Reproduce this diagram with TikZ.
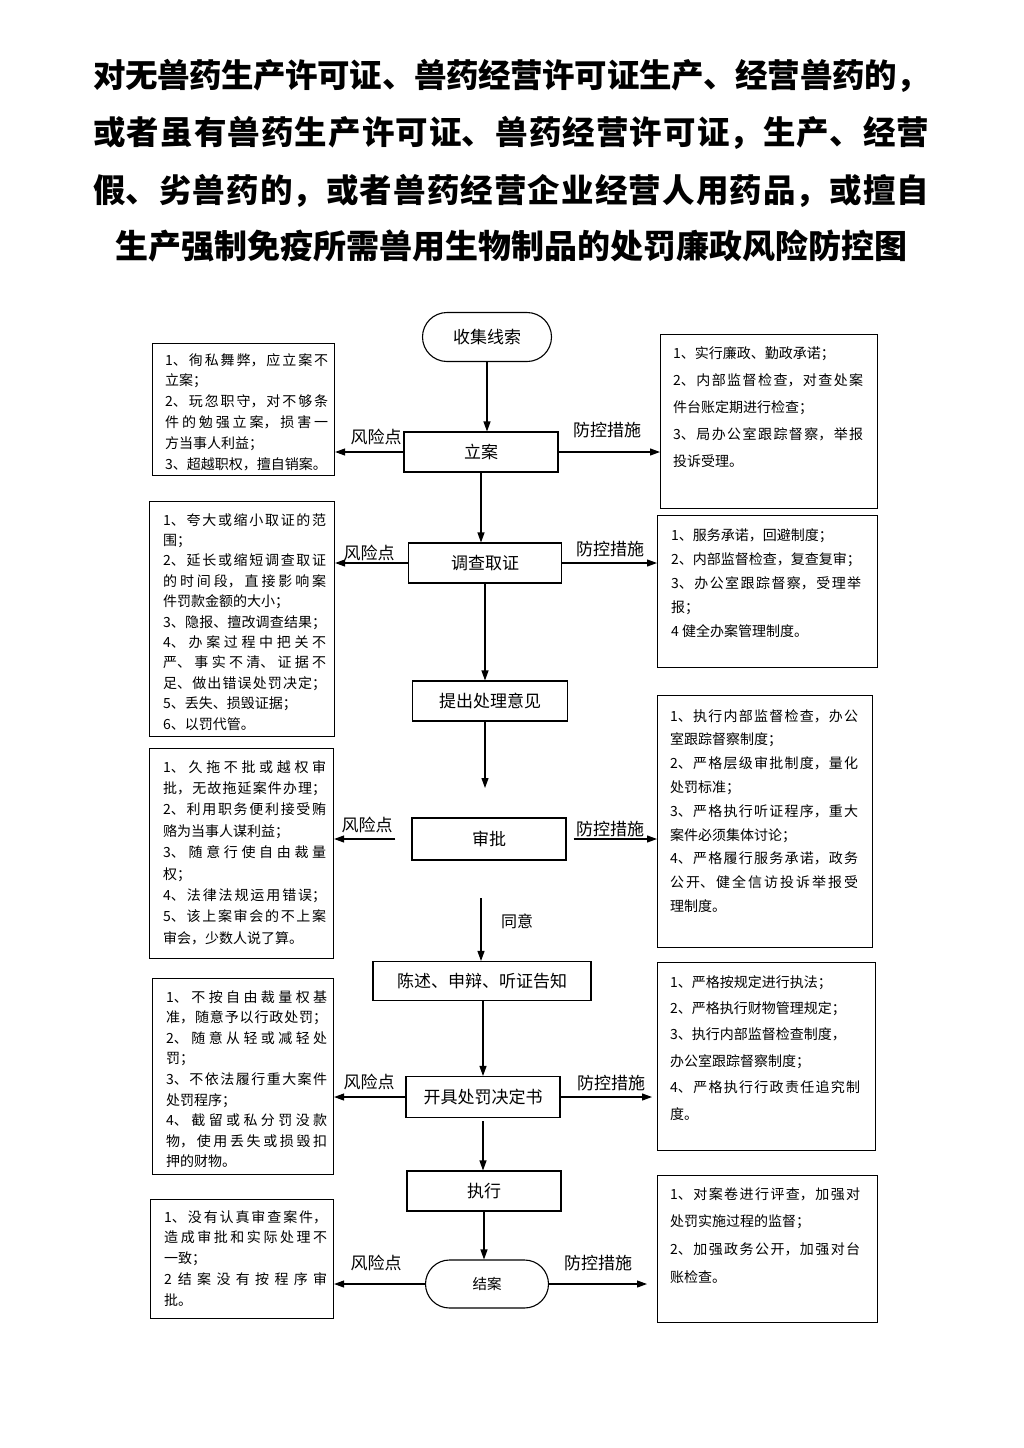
\documentclass[tikz,border=0pt]{standalone}
\usepackage{fontspec}
\setmainfont{Noto Sans CJK SC}
\usetikzlibrary{arrows.meta,shapes.misc}
\XeTeXlinebreaklocale "zh"
\XeTeXlinebreakskip=0pt plus 3pt minus 0.6pt
\begin{document}
\begin{tikzpicture}[x=1pt,y=-1pt,
  ttl/.style={inner sep=0,font=\fontsize{33}{57.5}\selectfont\bfseries},
  cbox/.style={draw,line width=1.1pt,inner sep=0,font=\fontsize{17}{17}\selectfont,minimum width=154pt,minimum height=40pt},
  term/.style={cbox,rounded rectangle},
  side/.style={draw,line width=1.1pt,inner sep=0,anchor=north west},
  stxt/.style={inner sep=0,anchor=north west,align=justify,text width=#1},
  lab/.style={inner sep=0,font=\fontsize{17}{17}\selectfont},
  arr/.style={line width=1.1pt,-{Triangle[length=10pt,width=7pt]}}]
\fill[white] (0,0) rectangle (1024,1448);
\useasboundingbox (0,0) rectangle (1024,1448);
% title
\node[ttl,anchor=north west,align=justify,text width=836pt,font=\fontsize{32.5}{57.5}\selectfont\bfseries] (t1) at (93,59) {\parfillskip=0pt 对无兽药生产许可证、兽药经营许可证生产、经营兽药的，\linebreak 或者虽有兽药生产许可证、兽药经营许可证，生产、经营\linebreak 假、劣兽药的，或者兽药经营企业经营人用药品，或擅自\par};
\node[ttl] (t4) at (511,246) {生产强制免疫所需兽用生物制品的处罚廉政风险防控图};
% centre column
\node[term,minimum width=129pt,minimum height=49pt] (shouji) at (487,337) {收集线索};
\node[cbox] (lian) at (481,452) {立案};
\node[cbox,minimum width=153pt] (diaocha) at (485,563) {调查取证};
\node[cbox,minimum width=155pt] (tichu) at (490,701) {提出处理意见};
\node[cbox,minimum height=42pt] (shenpi) at (489,839) {审批};
\node[cbox,minimum width=218pt,minimum height=39pt] (chenshu) at (482,981) {陈述、申辩、听证告知};
\node[cbox,minimum height=41pt] (kaiju) at (483,1097) {开具处罚决定书};
\node[cbox] (zhixing) at (484,1191) {执行};
\node[term,minimum width=123pt,minimum height=48pt,font=\fontsize{14.5}{14.5}\selectfont] (jiean) at (487,1284) {结案};
\coordinate (c1) at (485,788);
\coordinate (c2) at (481,898);
% side boxes
\node[side,minimum width=182pt,minimum height=132pt] (L1) at (152,343) {};
\node[side,minimum width=185pt,minimum height=235pt] (L2) at (149,501) {};
\node[side,minimum width=184pt,minimum height=210pt] (L3) at (149,748) {};
\node[side,minimum width=181pt,minimum height=196pt] (L4) at (152,978) {};
\node[side,minimum width=183pt,minimum height=119pt] (L5) at (150,1199) {};
\node[side,minimum width=217pt,minimum height=174pt] (R1) at (660,334) {};
\node[side,minimum width=220pt,minimum height=152pt] (R2) at (657,515) {};
\node[side,minimum width=215pt,minimum height=252pt] (R3) at (657,695) {};
\node[side,minimum width=218pt,minimum height=188pt] (R4) at (657,962) {};
\node[side,minimum width=220pt,minimum height=147pt] (R5) at (657,1175) {};
% side texts
\node[stxt=163pt,font=\fontsize{14}{20.8}\selectfont] (L1t) at (165,353) {1、徇私舞弊，应立案不\linebreak 立案；\\2、玩忽职守，对不够条\linebreak 件的勉强立案，损害一\linebreak 方当事人利益；\\3、超越职权，擅自销案。};
\node[stxt=163pt,font=\fontsize{14}{20.4}\selectfont] (L2t) at (163,513) {1、夸大或缩小取证的范\linebreak 围；\\2、延长或缩短调查取证\linebreak 的时间段，直接影响案\linebreak 件罚款金额的大小；\\3、隐报、擅改调查结果；\linebreak 4、办案过程中把关不\linebreak 严、事实不清、证据不\linebreak 足、做出错误处罚决定；\linebreak 5、丢失、损毁证据；\\6、以罚代管。};
\node[stxt=163pt,font=\fontsize{14}{21.4}\selectfont] (L3t) at (163,760) {1、久拖不批或越权审\linebreak 批，无故拖延案件办理；\linebreak 2、利用职务便利接受贿\linebreak 赂为当事人谋利益；\\3、随意行使自由裁量\linebreak 权；\\4、法律法规运用错误；\linebreak 5、该上案审会的不上案\linebreak 审会，少数人说了算。};
\node[stxt=161pt,font=\fontsize{14}{20.6}\selectfont] (L4t) at (166,990) {1、不按自由裁量权基\linebreak 准，随意予以行政处罚；\linebreak 2、随意从轻或减轻处\linebreak 罚；\\3、不依法履行重大案件\linebreak 处罚程序；\\4、截留或私分罚没款\linebreak 物，使用丢失或损毁扣\linebreak 押的财物。};
\node[stxt=163pt,font=\fontsize{14}{20.75}\selectfont] (L5t) at (164,1210) {1、没有认真审查案件，\linebreak 造成审批和实际处理不\linebreak 一致；\\2 结案没有按程序审\linebreak 批。};
\node[stxt=190pt,font=\fontsize{14}{27}\selectfont] (R1t) at (673,346) {1、实行廉政、勤政承诺；\\2、内部监督检查，对查处案\linebreak 件台账定期进行检查；\\3、局办公室跟踪督察，举报\linebreak 投诉受理。};
\node[stxt=190pt,font=\fontsize{14}{24}\selectfont] (R2t) at (671,528) {1、服务承诺，回避制度；\\2、内部监督检查，复查复审；\\3、办公室跟踪督察，受理举\linebreak 报；\\4 健全办案管理制度。};
\node[stxt=188pt,font=\fontsize{14}{23.8}\selectfont] (R3t) at (670,709) {1、执行内部监督检查，办公\linebreak 室跟踪督察制度；\\2、严格层级审批制度，量化\linebreak 处罚标准；\\3、严格执行听证程序，重大\linebreak 案件必须集体讨论；\\4、严格履行服务承诺，政务\linebreak 公开、健全信访投诉举报受\linebreak 理制度。};
\node[stxt=190pt,font=\fontsize{14}{26.4}\selectfont] (R4t) at (670,975) {1、严格按规定进行执法；\\2、严格执行财物管理规定；\\3、执行内部监督检查制度，\\办公室跟踪督察制度；\\4、严格执行行政责任追究制\linebreak 度。};
\node[stxt=190pt,font=\fontsize{14}{27.7}\selectfont] (R5t) at (670,1187) {1、对案卷进行评查，加强对\linebreak 处罚实施过程的监督；\\2、加强政务公开，加强对台\linebreak 账检查。};
% main flow
\draw[arr] (shouji.south) -- (shouji.south |- lian.north);
\draw[arr] (lian.south) -- (lian.south |- diaocha.north);
\draw[arr] (diaocha.south) -- (diaocha.south |- tichu.north);
\draw[arr] (tichu.south -| c1) -- (c1);
\draw[arr] (c2) -- (c2 |- chenshu.north);
\node[lab,font=\fontsize{16}{16}\selectfont,anchor=west] (tongyi) at (501,921) {同意};
\draw[arr] (chenshu.south -| kaiju.south) -- (kaiju.north);
\draw[arr] ([yshift=-3pt]kaiju.south) -- (kaiju.south |- zhixing.north);
\draw[arr] (zhixing.south) -- (zhixing.south |- jiean.north);
% side arrows
\draw[arr] (lian.west) -- (lian.west -| L1.east);
\draw[arr] (lian.east) -- (lian.east -| R1.west);
\draw[arr] (diaocha.west) -- (diaocha.west -| L2.east);
\draw[arr] (diaocha.east) -- (diaocha.east -| R2.west);
\draw[arr] ([xshift=-16pt]shenpi.west) -- (shenpi.west -| L3.east);
\draw[arr] ([xshift=7pt]shenpi.east) -- (shenpi.east -| R3.west);
\draw[arr] (kaiju.west) -- (kaiju.west -| L4.east);
\draw[arr] (kaiju.east) -- ([xshift=-5pt]kaiju.east -| R4.west);
\draw[arr] (jiean.west) -- (jiean.west -| L5.east);
\draw[arr] (jiean.east) -- ([xshift=-10pt]jiean.east -| R5.west);
% labels
\node[lab] (f1) at (376,437) {风险点};
\node[lab] (p1) at (607,430) {防控措施};
\node[lab] (f2) at (369,553) {风险点};
\node[lab] (p2) at (610,549) {防控措施};
\node[lab] (f3) at (367,825) {风险点};
\node[lab] (p3) at (610,829) {防控措施};
\node[lab] (f4) at (369,1082) {风险点};
\node[lab] (p4) at (611,1083) {防控措施};
\node[lab] (f5) at (376,1263) {风险点};
\node[lab] (p5) at (598,1263) {防控措施};
\end{tikzpicture}
\end{document}
